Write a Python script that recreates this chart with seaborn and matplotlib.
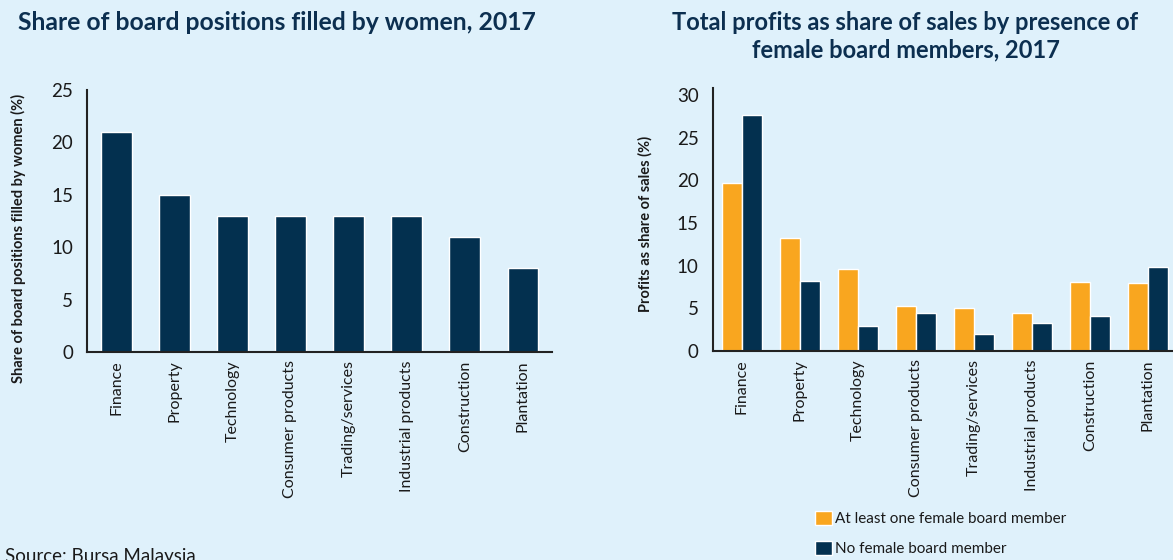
import matplotlib
matplotlib.use("Agg")
import matplotlib.pyplot as plt
import seaborn as sns
import pandas as pd

sectors = ["Finance", "Property", "Technology", "Consumer products",
           "Trading/services", "Industrial products", "Construction", "Plantation"]
women_share = [21, 15, 13, 13, 13, 13, 11, 8]
profit_with_women = [19.7, 13.2, 9.6, 5.3, 5.05, 4.45, 8.1, 8.0]
profit_no_women = [27.7, 8.2, 2.9, 4.45, 2.0, 3.3, 4.1, 9.8]
series_names = ["At least one female board member", "No female board member"]

BG = "#dff1fb"
NAVY = "#03304f"
ORANGE = "#f9a61f"
TITLE_C = "#0c2f50"
TEXT_C = "#1a1a1a"

sns.set_theme(style="white")
plt.rcParams["font.family"] = ["Lato", "DejaVu Sans"]

fig = plt.figure(figsize=(11.73, 5.6), dpi=100, facecolor=BG)
ax1 = fig.add_axes([0.0742, 0.3714, 0.3964, 0.4679])
ax2 = fig.add_axes([0.6075, 0.3732, 0.3959, 0.4690])

df1 = pd.DataFrame({"sector": sectors, "share": women_share})
sns.barplot(data=df1, x="sector", y="share", color=NAVY, width=0.53,
            saturation=1, ax=ax1)

df2 = pd.DataFrame({
    "sector": sectors * 2,
    "profit": profit_with_women + profit_no_women,
    "group": [series_names[0]] * len(sectors) + [series_names[1]] * len(sectors),
})
sns.barplot(data=df2, x="sector", y="profit", hue="group",
            palette=[ORANGE, NAVY], width=0.69, saturation=1, ax=ax2)

for ax in (ax1, ax2):
    ax.set_facecolor(BG)
    ax.set_xlim(-0.5, 7.5)
    for s in ("top", "right"):
        ax.spines[s].set_visible(False)
    for s in ("left", "bottom"):
        ax.spines[s].set_color("#222222")
        ax.spines[s].set_linewidth(1.5)
    ax.tick_params(axis="both", length=0, colors=TEXT_C)
    ax.tick_params(axis="y", labelsize=13.5, pad=10)
    ax.tick_params(axis="x", labelsize=11.5, rotation=90, pad=6)
    ax.set_xlabel("")
    ax.set_ylabel("")

ax1.set_ylim(0, 25)
ax1.set_yticks([0, 5, 10, 15, 20, 25])

ax2.set_ylim(0, 30.8)
ax2.set_yticks([0, 5, 10, 15, 20, 25, 30])

fig.text(0.0155, 0.575, "Share of board positions filled by women (%)", fontsize=10.5,
         fontweight="bold", color=TEXT_C, rotation=90, ha="center", va="center")
fig.text(0.550, 0.6, "Profits as share of sales (%)", fontsize=10.5,
         fontweight="bold", color=TEXT_C, rotation=90, ha="center", va="center")

handles, labels = ax2.get_legend_handles_labels()
if ax2.legend_:
    ax2.legend_.remove()
fig.legend(handles, labels, loc="upper left", bbox_to_anchor=(0.695, 0.088),
           frameon=False, fontsize=11, handlelength=1.1, handleheight=1.1,
           handletextpad=0.2, labelspacing=0.95, borderaxespad=0, borderpad=0,
           labelcolor=TEXT_C)

fig.text(0.015, 0.96, "Share of board positions filled by women, 2017",
         fontsize=17.8, fontweight="bold", color=TITLE_C, ha="left", va="center")
fig.text(0.772, 0.935, "Total profits as share of sales by presence of\nfemale board members, 2017",
         fontsize=17, fontweight="bold", color=TITLE_C, ha="center", va="center",
         linespacing=1.2)
fig.text(0.004, -0.004, "Source: Bursa Malaysia", fontsize=13.5, color=TEXT_C,
         ha="left", va="baseline")

fig.savefig("out.png", dpi=100, facecolor=BG)
